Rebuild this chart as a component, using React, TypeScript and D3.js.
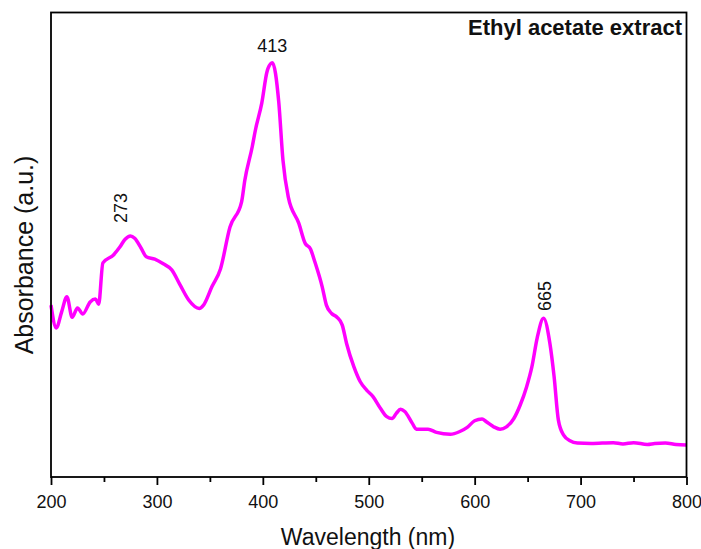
import * as d3 from "d3";
import { useEffect, useRef } from "react";

// spectrum (nm, absorbance in a.u., 0..1 frame height)
const wavelength = [
  200, 205, 210, 215, 220, 225, 230, 237, 242, 245, 249, 259, 265, 270, 275,
  279, 285, 290, 298, 306, 314, 322, 330, 340, 344, 352, 360, 369, 380, 383,
  390, 393, 399, 404, 405, 409, 415, 419, 424, 434, 440, 445, 449, 456, 460,
  465, 470, 475, 479, 486, 492, 498, 504, 511, 517, 522, 526, 530, 534, 541,
  545, 556, 564, 577, 586, 593, 600, 607, 611, 618, 624, 630, 637, 643, 649,
  654, 659, 665, 671, 675, 679, 684, 690, 697, 710, 731, 740, 750, 763, 770,
  780, 790, 800,
];
const absorbance = [
  0.37, 0.321, 0.355, 0.388, 0.344, 0.364, 0.351, 0.377, 0.383, 0.372, 0.461,
  0.478, 0.495, 0.512, 0.519, 0.514, 0.493, 0.474, 0.469, 0.459, 0.446, 0.413,
  0.381, 0.363, 0.37, 0.41, 0.448, 0.538, 0.593, 0.639, 0.711, 0.747, 0.805,
  0.873, 0.88, 0.892, 0.808, 0.682, 0.603, 0.546, 0.503, 0.491, 0.464, 0.41,
  0.37, 0.352, 0.344, 0.327, 0.288, 0.237, 0.205, 0.187, 0.173, 0.148, 0.13,
  0.126, 0.137, 0.146, 0.141, 0.116, 0.103, 0.103, 0.096, 0.092, 0.098, 0.107,
  0.121, 0.125, 0.119, 0.108, 0.103, 0.108, 0.126, 0.155, 0.194, 0.237, 0.299,
  0.342, 0.288, 0.216, 0.123, 0.09, 0.078, 0.073, 0.072, 0.074, 0.071, 0.074,
  0.07, 0.072, 0.073, 0.07, 0.069,
];

const majorTicks = [200, 300, 400, 500, 600, 700, 800];
const minorTicks = [250, 350, 450, 550, 650, 750];

const peakLabels = ["273", "413", "665"];
const peakAt = [266, 409, 666];
const peakRotated = [true, false, true];

const title = "Ethyl acetate extract";
const xTitle = "Wavelength (nm)";
const yTitle = "Absorbance (a.u.)";

const W = 701;
const H = 549;
const FONT = "'Liberation Sans', Arial, sans-serif";

const App = () => {
  const ref = useRef<SVGSVGElement>(null);

  useEffect(() => {
    const svg = d3.select(ref.current);
    svg.selectAll("*").remove();

    const left = 51;
    const right = 686.5;
    const top = 12.5;
    const bottom = 477;

    const x = d3.scaleLinear().domain([200, 800]).range([left, right]);
    const y = d3.scaleLinear().domain([0, 1]).range([bottom, top]);

    const pts: [number, number][] = wavelength.map((w, i) => [w, absorbance[i]]);

    const line = d3
      .line<[number, number]>()
      .x((d) => x(d[0]))
      .y((d) => y(d[1]))
      .curve(d3.curveMonotoneX);

    svg
      .append("path")
      .attr("d", line(pts))
      .attr("fill", "none")
      .attr("stroke", "#ff00ff")
      .attr("stroke-width", 3.5)
      .attr("stroke-linejoin", "round");

    // frame
    svg
      .append("rect")
      .attr("x", left)
      .attr("y", top)
      .attr("width", right - left)
      .attr("height", bottom - top)
      .attr("fill", "none")
      .attr("stroke", "#000")
      .attr("stroke-width", 1.8);

    const gx = svg.append("g").attr("transform", `translate(0,${bottom})`);
    gx.call(
      d3
        .axisBottom(x)
        .tickValues(majorTicks)
        .tickSize(8)
        .tickPadding(10)
        .tickFormat(d3.format("d"))
    );
    gx.select(".domain").remove();
    gx.selectAll("line").attr("stroke-width", 1.8);
    gx.selectAll("text")
      .attr("font-size", 18)
      .attr("font-family", FONT)
      .attr("fill", "#111");

    const gm = svg.append("g").attr("transform", `translate(0,${bottom})`);
    gm.call(d3.axisBottom(x).tickValues(minorTicks).tickSize(5).tickFormat(() => ""));
    gm.select(".domain").remove();
    gm.selectAll("line").attr("stroke-width", 1.8);

    // peak labels
    peakLabels.forEach((lab, i) => {
      const px = x(peakAt[i]);
      const t = svg
        .append("text")
        .text(lab)
        .attr("font-family", FONT)
        .attr("font-size", 18)
        .attr("fill", "#111");
      if (peakRotated[i]) {
        const py = i === 0 ? 223 : 311;
        t.attr("transform", `translate(${px},${py}) rotate(-90)`)
          .attr("dy", "0.35em")
          .attr("text-anchor", "start");
      } else {
        t.attr("x", px).attr("y", 51.5).attr("text-anchor", "middle");
      }
    });

    svg
      .append("text")
      .text(title)
      .attr("x", 682)
      .attr("y", 34.5)
      .attr("text-anchor", "end")
      .attr("font-family", FONT)
      .attr("font-weight", "bold")
      .attr("font-size", 22)
      .attr("fill", "#111");

    svg
      .append("text")
      .text(xTitle)
      .attr("x", 368)
      .attr("y", 545)
      .attr("text-anchor", "middle")
      .attr("font-family", FONT)
      .attr("font-size", 23)
      .attr("fill", "#111");

    svg
      .append("text")
      .text(yTitle)
      .attr("transform", "translate(24,255) rotate(-90)")
      .attr("dy", "0.35em")
      .attr("text-anchor", "middle")
      .attr("font-family", FONT)
      .attr("font-size", 25)
      .attr("fill", "#111");
  }, []);

  return (
    <svg
      ref={ref}
      width={W}
      height={H}
      style={{ position: "absolute", left: 0, top: 0, background: "white" }}
    />
  );
};

export default App;
